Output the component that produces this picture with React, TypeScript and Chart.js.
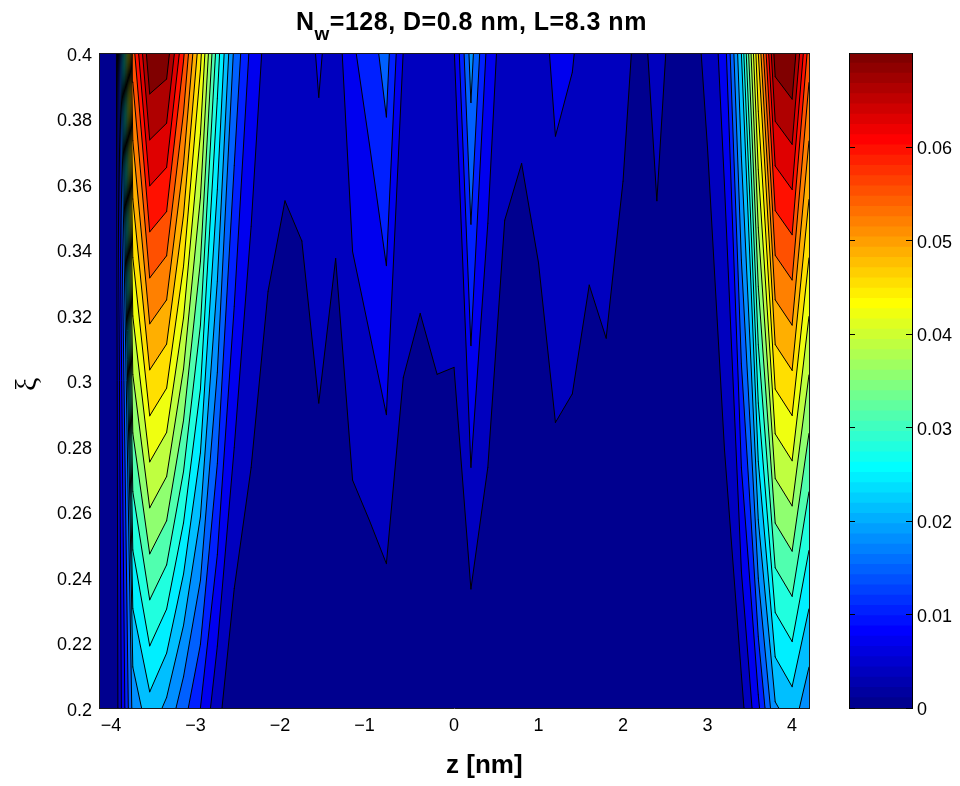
import React, { useEffect, useRef } from "react";
import { Chart, registerables } from "chart.js";

Chart.register(...registerables);

const zGrid = [-4.2,-4,-3.8,-3.6,-3.4,-3.2,-3,-2.8,-2.6,-2.4,-2.2,-2,-1.8,-1.6,-1.4,-1.2,-1,-0.8,-0.6,-0.4,-0.2,0,0.2,0.4,0.6,0.8,1,1.2,1.4,1.6,1.8,2,2.2,2.4,2.6,2.8,3,3.2,3.4,3.6,3.8,4,4.2];
const xiBottom = 0.2;
const xiTop = 0.4;
const valuesAtBottom = [0.00018,0.00147,0.01858,0.02331,0.02019,0.01539,0.01052,0.00463,0.00053,0,0,0,0,0,0,0,0,0.0001,0,0,0,0,0.00007,0.00004,0,0,0,0,0.00007,0,0,0,0,0,0,0,0,0.00007,0.00238,0.00974,0.02054,0.02289,0.01858];
const valuesAtTop = [0.00018,0.00175,0.05783,0.07322,0.07217,0.06015,0.04651,0.02979,0.01682,0.00953,0.0055,0.00452,0.00491,0.00752,0.0051,0.01006,0.01223,0.01553,0.00694,0.00581,0.00687,0.00673,0.01896,0.00946,0.0047,0.00421,0.00515,0.00803,0.00722,0.00542,0.0062,0.00435,0.00263,0.00452,0.00259,0.00252,0.0041,0.00876,0.02454,0.04907,0.07196,0.07368,0.05783];
const contourLevels = [0.0035,0.00701,0.01052,0.01402,0.01753,0.02103,0.02454,0.02804,0.03155,0.03505,0.03856,0.04206,0.04557,0.04907,0.05258,0.05608,0.05959,0.06309,0.0666,0.0701];
const colorbarMax = 0.0701;
const colorbarSteps = 64;

type P = { x: number; y: number; v: number };
const GAP = { x: NaN, y: NaN };

function jet(i: number): string {
  const c = (a: number) => Math.round(255 * Math.max(0, Math.min(1, a)));
  const r = c(Math.min((i - 24) / 16, (72 - i) / 16));
  const g = c(Math.min((i - 8) / 16, (56 - i) / 16));
  const b = c(Math.min((i + 8) / 16, (40 - i) / 16));
  return `rgb(${r},${g},${b})`;
}

function bandColor(level: number): string {
  return jet(Math.min(colorbarSteps, Math.round((level / colorbarMax) * (colorbarSteps - 1)) + 1));
}

function cellCorners(k: number): P[] {
  return [
    { x: zGrid[k], y: xiBottom, v: valuesAtBottom[k] },
    { x: zGrid[k + 1], y: xiBottom, v: valuesAtBottom[k + 1] },
    { x: zGrid[k + 1], y: xiTop, v: valuesAtTop[k + 1] },
    { x: zGrid[k], y: xiTop, v: valuesAtTop[k] },
  ];
}

function cross(a: P, b: P, L: number): P {
  const t = (L - a.v) / (b.v - a.v);
  return { x: a.x + t * (b.x - a.x), y: a.y + t * (b.y - a.y), v: L };
}

// Region where the field is >= L: polygons hanging from the top edge, one per connected run of columns.
function bandRegion(L: number) {
  const out: { x: number; y: number }[] = [];
  const n = zGrid.length;
  let run: { x: number; y: number }[] | null = null;
  for (let k = 0; k < n; k++) {
    if (valuesAtTop[k] < L) continue;
    if (!run) {
      run = [];
      if (k > 0) {
        const c = cellCorners(k - 1);
        const tp = cross(c[3], c[2], L);
        run.push({ x: tp.x, y: tp.y });
        if (valuesAtBottom[k] >= L) {
          const bp = cross(c[0], c[1], L);
          run.push({ x: bp.x, y: bp.y });
        }
      } else {
        run.push({ x: zGrid[0], y: xiTop });
      }
    }
    const b = valuesAtBottom[k];
    const t = valuesAtTop[k];
    if (b >= L) run.push({ x: zGrid[k], y: xiBottom });
    else run.push({ x: zGrid[k], y: xiBottom + ((xiTop - xiBottom) * (L - b)) / (t - b) });
    if (k === n - 1) {
      run.push({ x: zGrid[k], y: xiTop });
    } else {
      const c = cellCorners(k);
      const nextBottomIn = valuesAtBottom[k + 1] >= L;
      if (b >= L !== nextBottomIn) {
        const bp = cross(c[0], c[1], L);
        if (valuesAtTop[k + 1] >= L || b >= L) run.push({ x: bp.x, y: bp.y });
      }
      if (valuesAtTop[k + 1] < L) {
        const tp = cross(c[3], c[2], L);
        run.push({ x: tp.x, y: tp.y });
      }
    }
    if (k === n - 1 || valuesAtTop[k + 1] < L) {
      out.push(...run, { ...run[0] }, GAP);
      run = null;
    }
  }
  return out;
}

function contourSegments() {
  const out: { x: number; y: number }[] = [];
  for (const L of contourLevels) {
    for (let k = 0; k < zGrid.length - 1; k++) {
      const c = cellCorners(k);
      const pts: P[] = [];
      for (let i = 0; i < 4; i++) {
        const a = c[i];
        const b = c[(i + 1) % 4];
        if (a.v >= L !== b.v >= L) pts.push(cross(a, b, L));
      }
      if (pts.length === 2) {
        out.push({ x: pts[0].x, y: pts[0].y }, { x: pts[1].x, y: pts[1].y }, GAP);
      }
    }
  }
  return out;
}

const FONT = "'Liberation Sans', Arial, sans-serif";
const AXIS = "#1a1a1a";
const fixW = (w: number) => (s: any) => { s.width = w; };
const fixH = (h: number) => (s: any) => { s.height = h; };
const dropTop = (s: any) => { s.ticks = s.ticks.filter((t: any) => t.value < 0.065); };
const hiddenAxis = (extra: any) => ({
  display: true,
  ticks: { display: false },
  grid: { display: false, drawTicks: false },
  border: { display: true, color: AXIS, width: 1, z: 2 },
  ...extra,
});

export default function App() {
  const mainRef = useRef<HTMLCanvasElement>(null);
  const barRef = useRef<HTMLCanvasElement>(null);

  useEffect(() => {
    const levels = [-1, ...contourLevels];
    const bandSets: any[] = levels.map((L, idx) => ({
      label: `band ${idx}`,
      data: bandRegion(L),
      showLine: true,
      spanGaps: false,
      pointRadius: 0,
      tension: 0,
      fill: "shape",
      backgroundColor: bandColor(Math.max(L, 0)),
      borderWidth: 0,
      order: 100 - idx,
    }));
    const lineSet: any = {
      label: "contours",
      data: contourSegments(),
      showLine: true,
      spanGaps: false,
      pointRadius: 0,
      tension: 0,
      fill: false,
      borderColor: "#000000",
      borderWidth: 1,
      borderCapStyle: "round",
      order: 0,
    };

    const main = new Chart(mainRef.current!, {
      type: "scatter",
      data: { datasets: [lineSet, ...bandSets] },
      options: {
        animation: false,
        responsive: false,
        devicePixelRatio: 1,
        events: [],
        layout: { padding: 0 },
        plugins: { legend: { display: false }, tooltip: { enabled: false }, title: { display: false } },
        scales: {
          x: {
            type: "linear",
            position: "bottom",
            min: -4.2,
            max: 4.2,
            afterFit: fixH(78),
            ticks: {
              stepSize: 1,
              includeBounds: false,
              maxRotation: 0,
              padding: 7,
              color: "#000",
              font: { family: FONT, size: 18 },
              callback: (v: any) => (v < 0 ? "\u2212" + Math.abs(v) + "\u2007" : String(v)),
            },
            grid: { display: false, drawTicks: false },
            border: { display: true, color: AXIS, width: 1, z: 2 },
          },
          y: {
            type: "linear",
            position: "left",
            min: 0.2,
            max: 0.4,
            afterFit: fixW(99),
            title: { display: true, text: "\u03BE\u00A0", font: { family: "'Liberation Serif', serif", size: 30 }, color: "#000", padding: { top: 10, bottom: 0 } },
            ticks: {
              stepSize: 0.02,
              padding: 7,
              labelOffset: 3,
              color: "#000",
              font: { family: FONT, size: 18 },
              callback: (v: any) => String(+Number(v).toFixed(2)),
            },
            grid: { display: false, drawTicks: false },
            border: { display: true, color: AXIS, width: 1, z: 2 },
          },
          xTop: hiddenAxis({ type: "linear", position: "top", min: -4.2, max: 4.2, afterFit: fixH(53) }),
          yRight: hiddenAxis({ type: "linear", position: "right", min: 0.2, max: 0.4, afterFit: fixW(151) }),
        },
      } as any,
    });

    const stepValues = Array.from({ length: colorbarSteps }, () => colorbarMax / colorbarSteps);
    const bar = new Chart(barRef.current!, {
      type: "bar",
      data: {
        labels: ["colorbar"],
        datasets: stepValues.map((v, i) => ({
          label: `c${i}`,
          data: [v],
          backgroundColor: jet(i + 1),
          borderWidth: 0,
          inflateAmount: 0.6,
          barPercentage: 1,
          categoryPercentage: 1,
          stack: "s",
          yAxisID: "y",
        })),
      },
      options: {
        animation: false,
        responsive: false,
        devicePixelRatio: 1,
        events: [],
        layout: { padding: 0 },
        plugins: { legend: { display: false }, tooltip: { enabled: false }, title: { display: false } },
        scales: {
          x: hiddenAxis({ type: "category", position: "bottom", stacked: true, afterFit: fixH(78) }),
          xTop: hiddenAxis({ type: "linear", position: "top", min: 0, max: 1, afterFit: fixH(53) }),
          y: {
            type: "linear",
            position: "right",
            stacked: true,
            min: 0,
            max: colorbarMax,
            afterFit: fixW(48),
            afterBuildTicks: dropTop,
            ticks: { stepSize: 0.01, includeBounds: false, padding: 11, labelOffset: 2, color: "#000", font: { family: FONT, size: 18 } },
            grid: { drawOnChartArea: false, drawTicks: true, tickLength: -6, color: "#000", z: 2 },
            border: { display: true, color: "#000", width: 1, z: 2 },
          },
          yLeft: {
            type: "linear",
            position: "left",
            min: 0,
            max: colorbarMax,
            afterFit: fixW(849),
            afterBuildTicks: dropTop,
            ticks: { stepSize: 0.01, includeBounds: false, display: false },
            grid: { drawOnChartArea: false, drawTicks: true, tickLength: -6, color: "#000", z: 2 },
            border: { display: true, color: "#000", width: 1, z: 2 },
          },
        },
      } as any,
    });

    return () => {
      main.destroy();
      bar.destroy();
    };
  }, []);

  const layer: React.CSSProperties = { position: "absolute", left: 0, top: 0 };
  const boldText: React.CSSProperties = {
    position: "absolute",
    whiteSpace: "nowrap",
    fontFamily: FONT,
    fontWeight: "bold",
    color: "#000",
  };
  return (
    <div style={{ position: "absolute", left: 0, top: 0, width: 960, height: 786, background: "#fff", overflow: "hidden" }}>
      <canvas ref={mainRef} width={960} height={786} style={layer} />
      <canvas ref={barRef} width={960} height={786} style={layer} />
      <div style={{ ...boldText, left: 296, top: 7, fontSize: 25, lineHeight: "28px", letterSpacing: 0.5 }}>
        N
        <span style={{ position: "relative", top: 10, fontSize: 19 }}>w</span>
        =128, D=0.8 nm, L=8.3 nm
      </div>
      <div style={{ ...boldText, left: 446, top: 749, fontSize: 26, lineHeight: "30px" }}>z [nm]</div>
    </div>
  );
}
